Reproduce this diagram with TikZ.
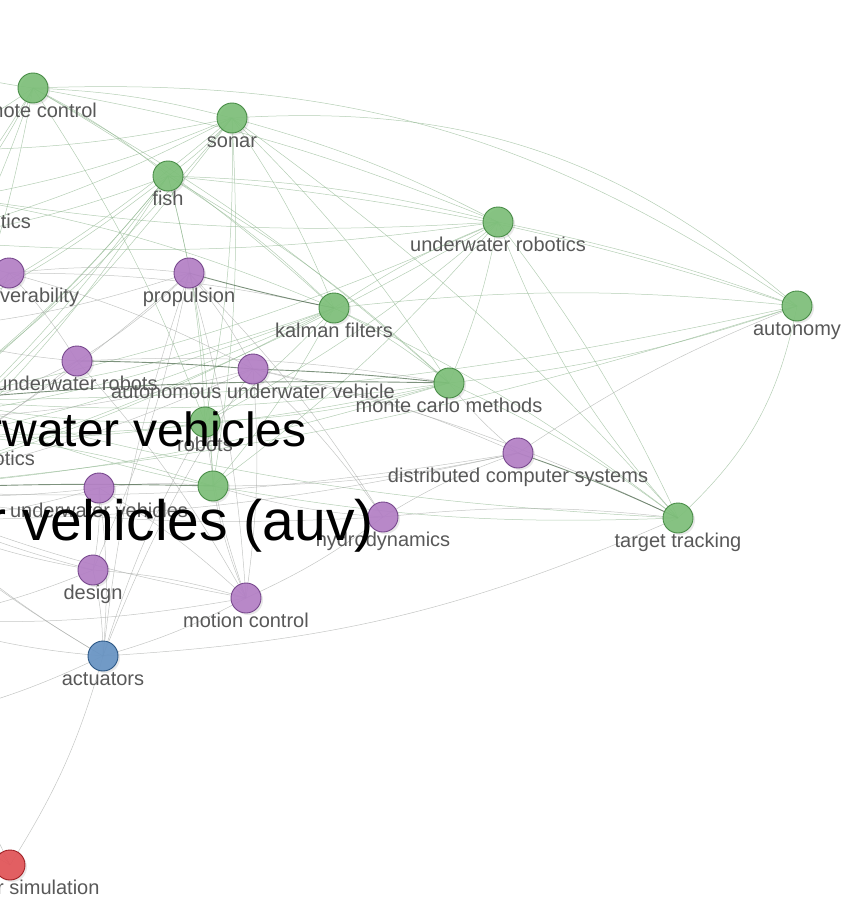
\documentclass[tikz,border=0pt]{standalone}
\usepackage{fontspec}
\setmainfont{Liberation Sans}
\usetikzlibrary{shadows}
\definecolor{kwgreenfill}{RGB}{126,192,122}
\definecolor{kwgreenline}{RGB}{72,140,70}
\definecolor{kwpurplefill}{RGB}{180,128,198}
\definecolor{kwpurpleline}{RGB}{118,70,140}
\definecolor{kwbluefill}{RGB}{104,148,196}
\definecolor{kwblueline}{RGB}{42,86,132}
\definecolor{kwredfill}{RGB}{226,84,88}
\definecolor{kwredline}{RGB}{160,32,36}
\definecolor{lblgray}{RGB}{88,88,88}
\definecolor{edgegreen}{RGB}{140,180,140}
\definecolor{edgegray}{RGB}{165,168,165}
\definecolor{edgedark}{RGB}{70,100,70}
\pgfdeclarelayer{edges}
\pgfsetlayers{edges,main}
\begin{document}
\begin{tikzpicture}[x=1pt,y=-1pt,
    kw/.style={circle,minimum size=30pt,inner sep=0pt,line width=0.9pt,
      fill opacity=0.92,label distance=0pt,
      drop shadow={shadow xshift=2pt,shadow yshift=-2pt,opacity=0.18}},
    kwg/.style={kw,fill=kwgreenfill,draw=kwgreenline},
    kwp/.style={kw,fill=kwpurplefill,draw=kwpurpleline},
    kwb/.style={kw,fill=kwbluefill,draw=kwblueline},
    kwr/.style={kw,fill=kwredfill,draw=kwredline},
    lbl/.style={font=\fontsize{20}{22}\selectfont,text=lblgray,inner sep=0pt,
      anchor=base,fill opacity=1,yshift=-14.5pt},
    biglbl/.style={text=black,inner sep=0pt,anchor=base east},
    gedge/.style={line width=0.5pt,draw=edgegreen,opacity=0.65},
    pedge/.style={line width=0.5pt,draw=edgegray,opacity=0.65},
    dedge/.style={line width=0.9pt,draw=edgedark,opacity=0.7}]
  \useasboundingbox (0,0) rectangle (854,923);
  \clip (0,0) rectangle (854,923);

  % keywords inside the frame
  \node[kwg,label={[lbl]below:remote control}] (rc) at (33,88) {};
  \node[kwg,label={[lbl]below:sonar}] (sonar) at (232,118) {};
  \node[kwg,label={[lbl]below:fish}] (fish) at (168,176) {};
  \node[kwp,label={[lbl]below:maneuverability}] (manv) at (9,273) {};
  \node[kwp,label={[lbl]below:propulsion}] (prop) at (189,273) {};
  \node[kwg,label={[lbl]below:kalman filters}] (kal) at (334,308) {};
  \node[kwg,label={[lbl]below:underwater robotics}] (uwr) at (498,222) {};
  \node[kwg,label={[lbl]below:autonomy}] (aut) at (797,306) {};
  \node[kwp,label={[lbl]below:underwater robots}] (uwrobots) at (77,361) {};
  \node[kwp,label={[lbl]below:autonomous underwater vehicle}] (auvn) at (253,369) {};
  \node[kwg,label={[lbl]below:monte carlo methods}] (mc) at (449,383) {};
  \node[kwg,label={[lbl]below:robots}] (robots) at (205,422) {};
  \node[kwp,label={[lbl]below:underwater vehicles}] (uwv) at (99,488) {};
  \node[kwg] (g2) at (213,486) {};
  \node[kwp,label={[lbl]below:hydrodynamics}] (hyd) at (383,517) {};
  \node[kwp,label={[lbl]below:distributed computer systems}] (dcs) at (518,453) {};
  \node[kwg,label={[lbl]below:target tracking}] (tt) at (678,518) {};
  \node[kwp,label={[lbl]below:design}] (design) at (93,570) {};
  \node[kwp,label={[lbl]below:motion control}] (motc) at (246,598) {};
  \node[kwb,label={[lbl]below:actuators}] (act) at (103,656) {};
  \node[kwr,label={[lbl]below:computer simulation}] (csim) at (10,865) {};

  % labels whose circles lie left of the frame
  \node[lbl,anchor=base east] (mrob) at (31,213.5) {marine robotics};
  \node[lbl,anchor=base east] (mobrob) at (35,450.5) {mobile robotics};

  % keywords left of the frame
  \coordinate (hubA) at (-60,400);
  \coordinate (hubB) at (-120,490);
  \coordinate (mrobc) at (-37,198);
  \coordinate (mobc) at (-40,435);
  \coordinate (L1) at (-80,60);
  \coordinate (L2) at (-80,150);
  \coordinate (L3) at (-80,240);
  \coordinate (L4) at (-80,330);
  \coordinate (L5) at (-80,420);
  \coordinate (L6) at (-80,520);
  \coordinate (L7) at (-80,620);
  \coordinate (L8) at (-80,720);
  \coordinate (L9) at (-80,800);

  \begin{pgfonlayer}{edges}
    \clip (0,0) rectangle (854,923);
    \foreach \a/\b in {rc/sonar,rc/fish,rc/kal,rc/uwr,rc/mc,rc/robots,rc/L1,rc/L2,rc/L3,
        rc/L4,rc/hubA,rc/mrobc,sonar/fish,sonar/kal,sonar/uwr,sonar/mc,sonar/robots,
        sonar/g2,sonar/hubA,sonar/hubB,sonar/L2,sonar/L3,sonar/L4,sonar/tt,sonar/mrobc,
        fish/kal,fish/uwr,fish/mc,fish/robots,fish/g2,fish/hubA,fish/hubB,fish/L3,fish/L4,
        fish/L5,fish/aut,fish/mobc,kal/uwr,kal/mc,kal/aut,kal/tt,kal/robots,kal/g2,
        kal/hubA,kal/hubB,kal/L5,kal/mobc,uwr/tt,uwr/mc,uwr/robots,uwr/hubA,
        uwr/hubB,uwr/L3,uwr/g2,uwr/mrobc,aut/mc,aut/hubA,aut/hubB,mc/tt,
        mc/robots,mc/hubA,mc/hubB,mc/mobc,tt/g2,tt/hubA,robots/g2,robots/hubA,
        robots/mobc,g2/hubA,mrobc/kal,mobc/g2}
      \draw[gedge] (\a.center) to[bend left=6] (\b.center);
    \foreach \a/\b in {manv/prop,manv/uwrobots,manv/auvn,manv/L3,manv/L4,manv/hubB,
        manv/kal,prop/auvn,prop/uwrobots,prop/hyd,prop/motc,prop/L4,prop/hubB,
        prop/design,uwrobots/mc,uwrobots/L4,uwrobots/L5,uwrobots/hubB,
        uwrobots/motc,auvn/dcs,auvn/hyd,auvn/motc,auvn/tt,auvn/hubB,auvn/L5,
        uwv/design,uwv/motc,uwv/g2,uwv/L6,uwv/hubB,uwv/act,hyd/dcs,hyd/motc,hyd/g2,
        hyd/hubB,hyd/tt,dcs/aut,dcs/g2,dcs/hubB,dcs/L6,dcs/mc,design/motc,
        design/act,design/L6,design/L7,design/hubB,motc/g2,motc/robots,motc/act,
        motc/hubB,motc/L7,act/L6,act/L7,act/L8,act/hubB,act/prop,act/robots,
        act/auvn,csim/L8,csim/L9,csim/L7}
      \draw[pedge] (\a.center) to[bend left=6] (\b.center);
    % long arcs on the right
    \draw[gedge] (sonar.center) to[bend left=22] (aut.center);
    \draw[gedge] (rc.center) to[bend left=18] (aut.center);
    \draw[gedge] (uwr.center) to[bend left=4] (aut.center);
    \draw[gedge] (aut.center) to[bend left=18] (tt.center);
    \draw[gedge] (uwr.center) to[bend right=10] (tt.center);
    \draw[pedge] (act.center) to[bend right=10] (tt.center);
    \draw[pedge] (act.center) to[bend left=8] (csim.center);
    % strong links
    \draw[dedge] (uwrobots.center) to[bend left=2] (auvn.center);
    \draw[dedge] (auvn.center) to[bend left=2] (mc.center);
    \draw[dedge] (prop.center) to[bend right=2] (kal.center);
    \draw[dedge] (hubB.center) to[bend left=2] (g2.center);
    \draw[dedge] (dcs.center) to[bend left=3] (tt.center);
    \draw[dedge] (hubA.center) to[bend left=3] (mc.center);
  \end{pgfonlayer}

  % the two big keywords, drawn last
  \node[biglbl,font=\fontsize{48}{52}\selectfont] (uvlbl) at (307,446)
    {unmanned underwater vehicles};
  \node[biglbl,font=\fontsize{57}{60}\selectfont] (auvlbl) at (374,540)
    {autonomous underwater vehicles (auv)};
\end{tikzpicture}
\end{document}
